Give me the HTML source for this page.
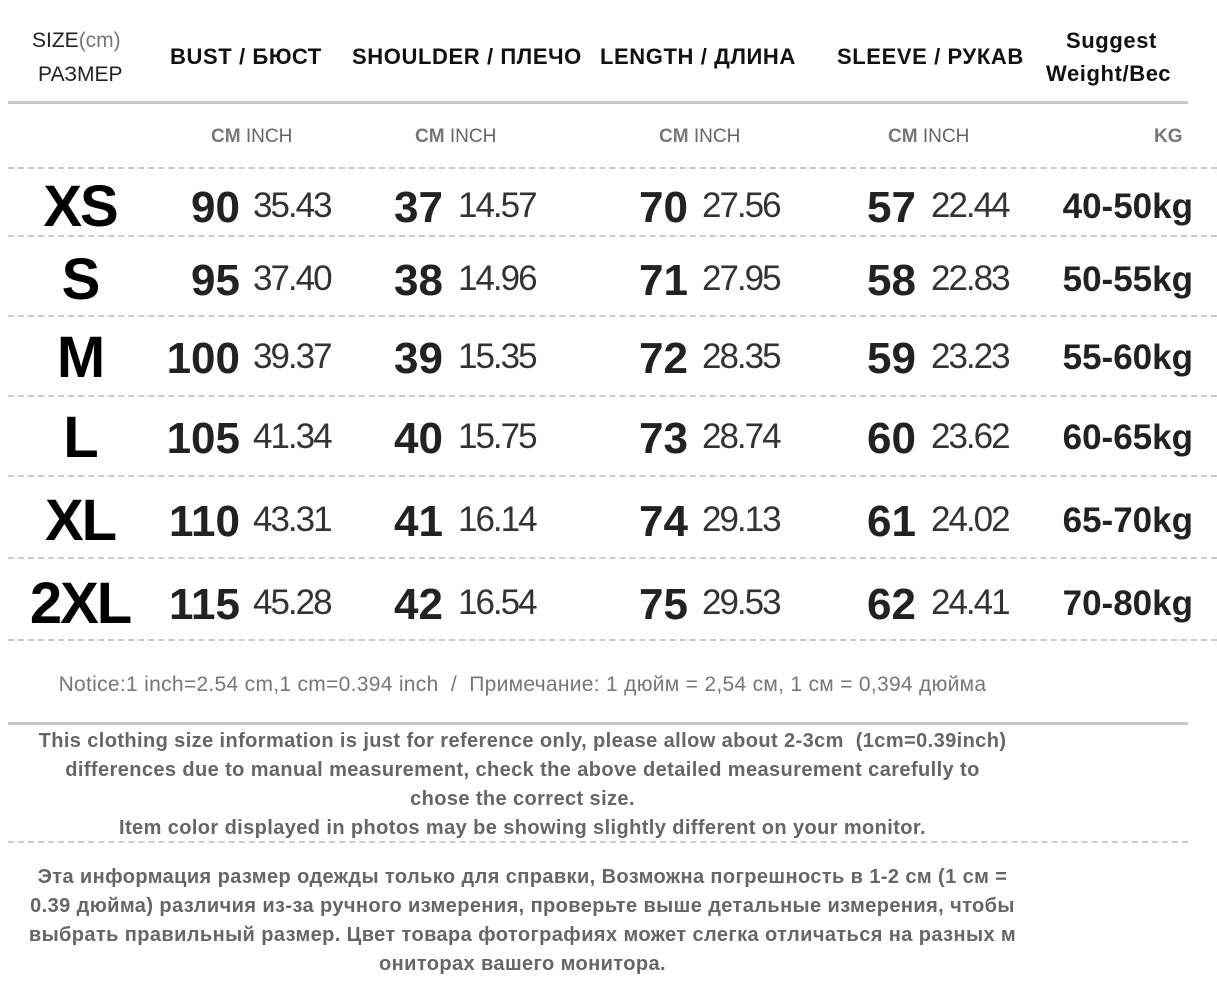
<!DOCTYPE html>
<html><head><meta charset="utf-8"><style>
body{margin:0;width:1217px;height:991px;background:#fff;position:relative;overflow:hidden;font-family:"Liberation Sans","DejaVu Sans",sans-serif}
.a{position:absolute;white-space:nowrap;line-height:1}
.h{font-weight:bold;font-size:22px;color:#111;letter-spacing:0.6px}
.sub{font-size:19px;color:#666}
.sub b{color:#777}
.sz{font-weight:bold;font-size:58px;color:#000;width:160px;text-align:center;left:0;letter-spacing:-2px}
.cm{font-weight:bold;font-size:44px;color:#222;text-align:right}
.in{font-size:35px;color:#333;letter-spacing:-2px}
.kg{font-weight:bold;font-size:35px;color:#222;right:24px}
.d{position:absolute;left:8px;right:0;border-top:2px dashed #ccc;height:0}
.s{position:absolute;left:8px;width:1180px;border-top:3px solid #c8c8c8;height:0}
.t{position:absolute;left:0;width:1045px;text-align:center;font-size:20px;font-weight:bold;letter-spacing:0.4px;color:#666;line-height:29px;white-space:nowrap}
</style></head><body>
<div class="a" style="left:32px;top:30px;font-size:21px;color:#222">SIZE<span style="color:#777">(cm)</span></div>
<div class="a" style="left:38px;top:64px;font-size:21px;color:#222">РАЗМЕР</div>
<div class="a h" style="left:170px;top:46px">BUST / БЮСТ</div>
<div class="a h" style="left:352px;top:46px">SHOULDER / ПЛЕЧО</div>
<div class="a h" style="left:600px;top:46px">LENGTH / ДЛИНА</div>
<div class="a h" style="left:837px;top:46px">SLEEVE / РУКАВ</div>
<div class="a h" style="left:1066px;top:30px">Suggest</div>
<div class="a h" style="left:1046px;top:63px">Weight/Вес</div>
<div class="s" style="top:101px"></div>
<div class="a sub" style="left:211px;top:127px"><b>CM</b> INCH</div>
<div class="a sub" style="left:415px;top:127px"><b>CM</b> INCH</div>
<div class="a sub" style="left:659px;top:127px"><b>CM</b> INCH</div>
<div class="a sub" style="left:888px;top:127px"><b>CM</b> INCH</div>
<div class="a sub" style="left:1154px;top:127px"><b>KG</b></div>
<div class="d" style="top:167px"></div>
<div class="d" style="top:235px"></div>
<div class="d" style="top:315px"></div>
<div class="d" style="top:395px"></div>
<div class="d" style="top:475px"></div>
<div class="d" style="top:557px"></div>
<div class="d" style="top:639px"></div>

<div style="position:absolute;left:0;top:184px;width:1217px;height:40px">
<div class="a sz" style="top:-6px">XS</div>
<div class="a cm" style="right:977px;top:2px">90</div><div class="a in" style="left:253px;top:4px">35.43</div>
<div class="a cm" style="right:774px;top:2px">37</div><div class="a in" style="left:458px;top:4px">14.57</div>
<div class="a cm" style="right:529px;top:2px">70</div><div class="a in" style="left:702px;top:4px">27.56</div>
<div class="a cm" style="right:301px;top:2px">57</div><div class="a in" style="left:931px;top:4px">22.44</div>
<div class="a kg" style="top:5px">40-50kg</div></div>

<div style="position:absolute;left:0;top:257px;width:1217px;height:40px">
<div class="a sz" style="top:-6px">S</div>
<div class="a cm" style="right:977px;top:2px">95</div><div class="a in" style="left:253px;top:4px">37.40</div>
<div class="a cm" style="right:774px;top:2px">38</div><div class="a in" style="left:458px;top:4px">14.96</div>
<div class="a cm" style="right:529px;top:2px">71</div><div class="a in" style="left:702px;top:4px">27.95</div>
<div class="a cm" style="right:301px;top:2px">58</div><div class="a in" style="left:931px;top:4px">22.83</div>
<div class="a kg" style="top:5px">50-55kg</div></div>

<div style="position:absolute;left:0;top:335px;width:1217px;height:40px">
<div class="a sz" style="top:-6px">M</div>
<div class="a cm" style="right:977px;top:2px">100</div><div class="a in" style="left:253px;top:4px">39.37</div>
<div class="a cm" style="right:774px;top:2px">39</div><div class="a in" style="left:458px;top:4px">15.35</div>
<div class="a cm" style="right:529px;top:2px">72</div><div class="a in" style="left:702px;top:4px">28.35</div>
<div class="a cm" style="right:301px;top:2px">59</div><div class="a in" style="left:931px;top:4px">23.23</div>
<div class="a kg" style="top:5px">55-60kg</div></div>

<div style="position:absolute;left:0;top:415px;width:1217px;height:40px">
<div class="a sz" style="top:-6px">L</div>
<div class="a cm" style="right:977px;top:2px">105</div><div class="a in" style="left:253px;top:4px">41.34</div>
<div class="a cm" style="right:774px;top:2px">40</div><div class="a in" style="left:458px;top:4px">15.75</div>
<div class="a cm" style="right:529px;top:2px">73</div><div class="a in" style="left:702px;top:4px">28.74</div>
<div class="a cm" style="right:301px;top:2px">60</div><div class="a in" style="left:931px;top:4px">23.62</div>
<div class="a kg" style="top:5px">60-65kg</div></div>

<div style="position:absolute;left:0;top:498px;width:1217px;height:40px">
<div class="a sz" style="top:-6px">XL</div>
<div class="a cm" style="right:977px;top:2px">110</div><div class="a in" style="left:253px;top:4px">43.31</div>
<div class="a cm" style="right:774px;top:2px">41</div><div class="a in" style="left:458px;top:4px">16.14</div>
<div class="a cm" style="right:529px;top:2px">74</div><div class="a in" style="left:702px;top:4px">29.13</div>
<div class="a cm" style="right:301px;top:2px">61</div><div class="a in" style="left:931px;top:4px">24.02</div>
<div class="a kg" style="top:5px">65-70kg</div></div>

<div style="position:absolute;left:0;top:581px;width:1217px;height:40px">
<div class="a sz" style="top:-6px">2XL</div>
<div class="a cm" style="right:977px;top:2px">115</div><div class="a in" style="left:253px;top:4px">45.28</div>
<div class="a cm" style="right:774px;top:2px">42</div><div class="a in" style="left:458px;top:4px">16.54</div>
<div class="a cm" style="right:529px;top:2px">75</div><div class="a in" style="left:702px;top:4px">29.53</div>
<div class="a cm" style="right:301px;top:2px">62</div><div class="a in" style="left:931px;top:4px">24.41</div>
<div class="a kg" style="top:5px">70-80kg</div></div>

<div class="t" style="top:670px;color:#777;font-weight:normal;font-size:21px;letter-spacing:0.3px">Notice:1 inch=2.54 cm,1 cm=0.394 inch &nbsp;/ &nbsp;Примечание: 1 дюйм = 2,54 см, 1 см = 0,394 дюйма</div>
<div class="s" style="top:722px"></div>
<div class="t" style="top:727px">This clothing size information is just for reference only, please allow about 2-3cm &nbsp;(1cm=0.39inch)<br>differences due to manual measurement, check the above detailed measurement carefully to<br>chose the correct size.<br>Item color displayed in photos may be showing slightly different on your monitor.</div>
<div class="d" style="top:841px;width:1180px"></div>
<div class="t" style="top:863px">Эта информация размер одежды только для справки, Возможна погрешность в 1-2 см (1 см =<br>0.39 дюйма) различия из-за ручного измерения, проверьте выше детальные измерения, чтобы<br>выбрать правильный размер. Цвет товара фотографиях может слегка отличаться на разных м<br>ониторах вашего монитора.</div>
</body></html>
